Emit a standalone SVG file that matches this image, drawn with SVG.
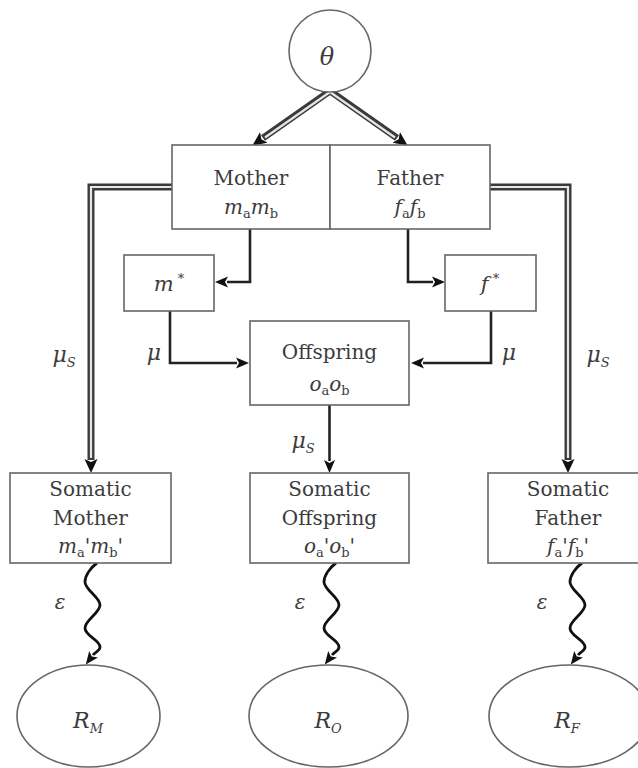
<svg xmlns="http://www.w3.org/2000/svg" width="638" height="768" viewBox="0 0 638 768">
<style>
.box{fill:#fff;stroke:#666;stroke-width:1.6}
.t{font-family:"DejaVu Serif","Liberation Serif",serif;font-size:20px;fill:#3c3c3c;text-anchor:middle}
.i{font-style:italic}
.s{font-size:13px;font-style:normal}
.si{font-size:13px;font-style:italic}
.ln{fill:none;stroke:#222;stroke-width:2.6}
.dbo{fill:none;stroke:#3a3a3a;stroke-width:7;stroke-linejoin:miter}
.dbi{fill:none;stroke:#e6e6e6;stroke-width:2.2;stroke-linejoin:miter}
.sq{fill:none;stroke:#111;stroke-width:2.8}
</style>
<defs>
<marker id="ah" viewBox="0 -7 15 14" markerWidth="15" markerHeight="14" refX="1" refY="0" orient="auto" markerUnits="userSpaceOnUse">
<path d="M0,-5.5 L13,0 L0,5.5 L3,0 Z" fill="#111"/>
</marker>
<marker id="ah2" viewBox="0 -8 16 16" markerWidth="16" markerHeight="16" refX="1" refY="0" orient="auto" markerUnits="userSpaceOnUse">
<path d="M0,-6.5 L14,0 L0,6.5 L3,0 Z" fill="#111"/>
</marker>
</defs>

<g id="connectors">
  <path class="dbo" d="M330,91 L263,138" marker-end="url(#ah2)"/>
  <path class="dbo" d="M330,91 L397,138" marker-end="url(#ah2)"/>
  <path class="dbi" d="M330,92 L265,137.5"/>
  <path class="dbi" d="M330,92 L395,137.5"/>
  <path class="dbo" d="M172,187 L91,187 L91,460" marker-end="url(#ah2)"/>
  <path class="dbi" d="M172,187 L91,187 L91,458"/>
  <path class="dbo" d="M490,187 L568,187 L568,460" marker-end="url(#ah2)"/>
  <path class="dbi" d="M490,187 L568,187 L568,458"/>
  <path class="ln" d="M250,229 L250,282 L227,282" marker-end="url(#ah)"/>
  <path class="ln" d="M408,229 L408,282 L433,282" marker-end="url(#ah)"/>
  <path class="ln" d="M170,311 L170,363 L237,363" marker-end="url(#ah)"/>
  <path class="ln" d="M491,311 L491,363 L423,363" marker-end="url(#ah)"/>
  <path class="ln" d="M329.5,405 L329.5,461" marker-end="url(#ah)"/>
  <path class="sq" d="M97,563 C90,568 85,576 85,582 C85,590 100,597 100,605 C100,613 85,620 85,628 C85,636 100,640 100,647 C100,651 96,651 93,655" marker-end="url(#ah)"/>
  <path class="sq" d="M336,563 C329,568 324,576 324,582 C324,590 339,597 339,605 C339,613 324,620 324,628 C324,636 339,640 339,647 C339,651 335,651 332,655" marker-end="url(#ah)"/>
  <path class="sq" d="M582,563 C575,568 570,576 570,582 C570,590 585,597 585,605 C585,613 570,620 570,628 C570,636 585,640 585,647 C585,651 581,651 578,655" marker-end="url(#ah)"/>
</g>

<g id="theta">
  <circle cx="330" cy="51" r="41" fill="#fff" stroke="#666" stroke-width="1.6"/>
  <text class="t i" x="327" y="65" style="font-size:24px">θ</text>
</g>

<g id="mother">
  <rect class="box" x="172" y="145" width="158" height="84"/>
  <text class="t" x="251" y="185">Mother</text>
  <text class="t i" x="251" y="214">m<tspan class="s" dy="4">a</tspan><tspan dy="-4">m</tspan><tspan class="s" dy="4">b</tspan></text>
</g>
<g id="father">
  <rect class="box" x="330" y="145" width="160" height="84"/>
  <text class="t" x="410" y="185">Father</text>
  <text class="t i" x="410" y="214">f<tspan class="s" dy="4">a</tspan><tspan dy="-4">f</tspan><tspan class="s" dy="4">b</tspan></text>
</g>

<g id="mstar">
  <rect class="box" x="124" y="255" width="90" height="56"/>
  <text class="t i" x="169" y="291" style="font-size:21px">m<tspan class="s" dy="-8"> *</tspan></text>
</g>
<g id="fstar">
  <rect class="box" x="445" y="255" width="91" height="56"/>
  <text class="t i" x="490" y="291" style="font-size:21px">f<tspan class="s" dy="-8"> *</tspan></text>
</g>

<g id="offspring">
  <rect class="box" x="250" y="321" width="159" height="84"/>
  <text class="t" x="329.5" y="359">Offspring</text>
  <text class="t i" x="329.5" y="391">o<tspan class="s" dy="4">a</tspan><tspan dy="-4">o</tspan><tspan class="s" dy="4">b</tspan></text>
</g>

<g id="somatic-mother">
  <rect class="box" x="10" y="473" width="161" height="90"/>
  <text class="t" x="90.5" y="496">Somatic</text>
  <text class="t" x="90.5" y="525">Mother</text>
  <text class="t i" x="90.5" y="553">m<tspan class="s" dy="4">a</tspan><tspan dy="-4">'m</tspan><tspan class="s" dy="4">b</tspan><tspan dy="-4">'</tspan></text>
</g>
<g id="somatic-offspring">
  <rect class="box" x="250" y="473" width="159" height="90"/>
  <text class="t" x="329.5" y="496">Somatic</text>
  <text class="t" x="329.5" y="525">Offspring</text>
  <text class="t i" x="329.5" y="553">o<tspan class="s" dy="4">a</tspan><tspan dy="-4">'o</tspan><tspan class="s" dy="4">b</tspan><tspan dy="-4">'</tspan></text>
</g>
<g id="somatic-father">
  <rect class="box" x="488" y="473" width="160" height="90"/>
  <text class="t" x="568" y="496">Somatic</text>
  <text class="t" x="568" y="525">Father</text>
  <text class="t i" x="568" y="553">f<tspan class="s" dy="4">a</tspan><tspan dy="-4">'f</tspan><tspan class="s" dy="4">b</tspan><tspan dy="-4">'</tspan></text>
</g>

<g id="r-m">
  <ellipse cx="88.5" cy="716" rx="71.5" ry="51" fill="#fff" stroke="#666" stroke-width="1.6"/>
  <text class="t i" x="88" y="728" style="font-size:22px">R<tspan class="si" dy="5">M</tspan></text>
</g>
<g id="r-o">
  <ellipse cx="328.5" cy="716" rx="79.5" ry="51" fill="#fff" stroke="#666" stroke-width="1.6"/>
  <text class="t i" x="328" y="728" style="font-size:22px">R<tspan class="si" dy="5">O</tspan></text>
</g>
<g id="r-f">
  <ellipse cx="569" cy="716" rx="80" ry="51" fill="#fff" stroke="#666" stroke-width="1.6"/>
  <text class="t i" x="567" y="728" style="font-size:22px">R<tspan class="si" dy="5">F</tspan></text>
</g>

<g id="labels">
  <text class="t i" x="64" y="362" style="font-size:22px">μ<tspan class="si" dy="5">S</tspan></text>
  <text class="t i" x="598" y="362" style="font-size:22px">μ<tspan class="si" dy="5">S</tspan></text>
  <text class="t i" x="303" y="448" style="font-size:22px">μ<tspan class="si" dy="5">S</tspan></text>
  <text class="t i" x="154" y="360" style="font-size:22px">μ</text>
  <text class="t i" x="509" y="360" style="font-size:22px">μ</text>
  <text class="t i" x="60" y="609" style="font-size:20px">ε</text>
  <text class="t i" x="300" y="609" style="font-size:20px">ε</text>
  <text class="t i" x="542" y="609" style="font-size:20px">ε</text>
</g>
</svg>
